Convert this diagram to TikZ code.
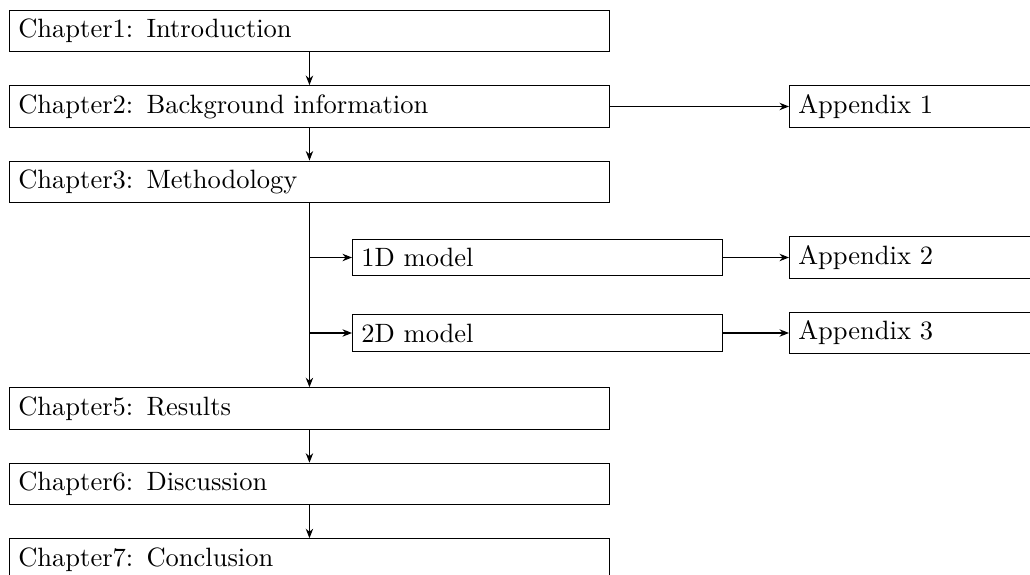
\documentclass[tikz,border=0pt]{standalone}
\usetikzlibrary{arrows.meta}
\begin{document}
\begin{tikzpicture}[x=0.37736pt,y=-0.37736pt,
  box/.style={draw,line width=0.4pt,anchor=west,inner sep=3.33pt},
  chap/.style={box,text width=219.7pt},
  model/.style={box,text width=132.9pt},
  appx/.style={box,text width=135.6pt},
  link/.style={line width=0.4pt,-{Stealth[length=3.6pt,width=2.8pt]}}]
\useasboundingbox (0,0) rectangle (1030,575);
\clip (0,0) rectangle (1030,575);
% main chapter column
\node[chap] (c1) at (9,31)    {Chapter1: Introduction};
\node[chap] (c2) at (9,106.5) {Chapter2: Background information};
\node[chap] (c3) at (9,182)   {Chapter3: Methodology};
\node[chap] (c5) at (9,408.5) {Chapter5: Results};
\node[chap] (c6) at (9,484)   {Chapter6: Discussion};
\node[chap] (c7) at (9,559.5) {Chapter7: Conclusion};
% models
\node[model] (m1) at (352,257.5) {1D model};
\node[model] (m2) at (352,333)   {2D model};
% appendices
\node[appx] (a1) at (789,106.5) {Appendix 1};
\node[appx] (a2) at (789,257.5) {Appendix 2};
\node[appx] (a3) at (789,333)   {Appendix 3};
% connectors
\draw[link] (c1) -- (c2);
\draw[link] (c2) -- (c3);
\draw[link] (c3) -- (c5);
\draw[link] (c5) -- (c6);
\draw[link] (c6) -- (c7);
\draw[link] (c3.south |- m1.west) -- (m1.west);
\draw[link] (c3.south |- m2.west) -- (m2.west);
\draw[link] (c2) -- (a1);
\draw[link] (m1) -- (a2);
\draw[link] (m2) -- (a3);
\end{tikzpicture}
\end{document}
